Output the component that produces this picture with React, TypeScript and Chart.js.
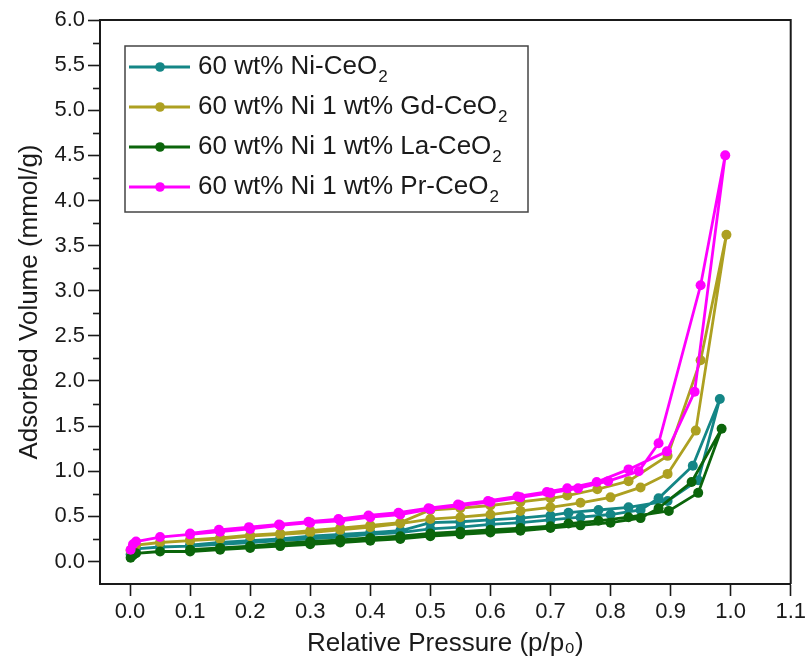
import React, { useEffect, useRef } from "react";
import { Chart, registerables } from "chart.js";

Chart.register(...registerables);

// ---- Series labels and colours ----
const SERIES_BASE = ["60 wt% Ni-CeO", "60 wt% Ni 1 wt% Gd-CeO", "60 wt% Ni 1 wt% La-CeO", "60 wt% Ni 1 wt% Pr-CeO"];
const SERIES_SUB = ["2", "2", "2", "2"];
const SERIES_COLORS = ["#148686", "#ADA021", "#0B650B", "#FF00FF"];

// ---- 60 wt% Ni-CeO2 ----
const NI_ADS_P = [0.001, 0.005, 0.01, 0.05, 0.1, 0.15, 0.2, 0.25, 0.3, 0.35, 0.4, 0.45, 0.5, 0.55, 0.6, 0.65, 0.7, 0.75, 0.8, 0.85, 0.88, 0.937, 0.982];
const NI_ADS_V = [0.08, 0.12, 0.14, 0.16, 0.17, 0.19, 0.21, 0.23, 0.25, 0.27, 0.30, 0.32, 0.36, 0.38, 0.41, 0.43, 0.46, 0.49, 0.52, 0.57, 0.70, 1.06, 1.80];
const NI_DES_P = [0.946, 0.895, 0.83, 0.78, 0.73, 0.7, 0.65, 0.6, 0.55, 0.5, 0.45, 0.4, 0.35, 0.3, 0.25, 0.2, 0.15, 0.1];
const NI_DES_V = [0.90, 0.67, 0.60, 0.57, 0.54, 0.51, 0.48, 0.46, 0.44, 0.43, 0.34, 0.32, 0.30, 0.28, 0.25, 0.23, 0.21, 0.18];

// ---- 60 wt% Ni 1 wt% Gd-CeO2 ----
const GD_ADS_P = [0.001, 0.005, 0.01, 0.05, 0.1, 0.15, 0.2, 0.25, 0.3, 0.35, 0.4, 0.45, 0.5, 0.55, 0.6, 0.65, 0.7, 0.75, 0.8, 0.85, 0.895, 0.942, 0.993];
const GD_ADS_V = [0.12, 0.16, 0.18, 0.21, 0.23, 0.25, 0.28, 0.30, 0.32, 0.35, 0.38, 0.42, 0.47, 0.49, 0.52, 0.56, 0.60, 0.65, 0.71, 0.82, 0.97, 1.45, 3.62];
const GD_DES_P = [0.95, 0.895, 0.83, 0.778, 0.728, 0.7, 0.65, 0.6, 0.55, 0.5, 0.45, 0.4, 0.35, 0.3, 0.25, 0.2, 0.15, 0.1];
const GD_DES_V = [2.23, 1.17, 0.89, 0.80, 0.73, 0.70, 0.66, 0.62, 0.59, 0.57, 0.43, 0.40, 0.37, 0.34, 0.31, 0.29, 0.26, 0.24];

// ---- 60 wt% Ni 1 wt% La-CeO2 ----
const LA_ADS_P = [0.001, 0.005, 0.01, 0.05, 0.1, 0.15, 0.2, 0.25, 0.3, 0.35, 0.4, 0.45, 0.5, 0.55, 0.6, 0.65, 0.7, 0.75, 0.8, 0.85, 0.88, 0.935, 0.985];
const LA_ADS_V = [0.04, 0.07, 0.09, 0.11, 0.11, 0.13, 0.15, 0.17, 0.19, 0.21, 0.23, 0.25, 0.28, 0.30, 0.32, 0.34, 0.37, 0.40, 0.43, 0.48, 0.59, 0.88, 1.47];
const LA_DES_P = [0.946, 0.897, 0.83, 0.78, 0.73, 0.7, 0.65, 0.6, 0.55, 0.5, 0.45, 0.4, 0.35, 0.3, 0.25, 0.2, 0.15, 0.1];
const LA_DES_V = [0.76, 0.56, 0.49, 0.45, 0.42, 0.39, 0.37, 0.35, 0.33, 0.31, 0.28, 0.26, 0.24, 0.22, 0.20, 0.17, 0.15, 0.13];

// ---- 60 wt% Ni 1 wt% Pr-CeO2 ----
const PR_ADS_P = [0.001, 0.005, 0.01, 0.05, 0.1, 0.15, 0.2, 0.25, 0.3, 0.35, 0.4, 0.45, 0.5, 0.55, 0.6, 0.65, 0.7, 0.746, 0.796, 0.847, 0.88, 0.95, 0.991];
const PR_ADS_V = [0.13, 0.19, 0.22, 0.27, 0.30, 0.33, 0.36, 0.40, 0.43, 0.45, 0.49, 0.52, 0.58, 0.62, 0.66, 0.71, 0.76, 0.81, 0.89, 1.00, 1.31, 3.06, 4.50];
const PR_DES_P = [0.94, 0.894, 0.83, 0.777, 0.728, 0.694, 0.645, 0.596, 0.546, 0.497, 0.447, 0.397, 0.347, 0.297, 0.248, 0.198, 0.148, 0.1];
const PR_DES_V = [1.88, 1.22, 1.02, 0.88, 0.81, 0.77, 0.72, 0.67, 0.63, 0.59, 0.54, 0.51, 0.47, 0.44, 0.41, 0.38, 0.35, 0.31];

// ---- Axes ----
const X_MIN = -0.05, X_MAX = 1.1;
const Y_MIN = -0.25, Y_MAX = 6.0;
const X_TICKS = [0.0, 0.1, 0.2, 0.3, 0.4, 0.5, 0.6, 0.7, 0.8, 0.9, 1.0, 1.1];
const Y_TICKS = [0.0, 0.5, 1.0, 1.5, 2.0, 2.5, 3.0, 3.5, 4.0, 4.5, 5.0, 5.5, 6.0];
const Y_MINOR_TICKS = [0.25, 0.75, 1.25, 1.75, 2.25, 2.75, 3.25, 3.75, 4.25, 4.75, 5.25, 5.75];
const X_TITLE = "Relative Pressure (p/p\u2080)";
const Y_TITLE = "Adsorbed Volume (mmol/g)";

const FONT = "'Liberation Sans', Arial, sans-serif";
const INK = "#1a1a1a";

function loop(ap: number[], av: number[], dp: number[], dv: number[]) {
  const pts = ap.map((p, i) => ({ x: p, y: av[i] }));
  return pts.concat(dp.map((p, i) => ({ x: p, y: dv[i] })));
}

const SERIES_DATA = [
  loop(NI_ADS_P, NI_ADS_V, NI_DES_P, NI_DES_V),
  loop(GD_ADS_P, GD_ADS_V, GD_DES_P, GD_DES_V),
  loop(LA_ADS_P, LA_ADS_V, LA_DES_P, LA_DES_V),
  loop(PR_ADS_P, PR_ADS_V, PR_DES_P, PR_DES_V),
];
const DRAW_ORDER = [3, 2, 1, 0];

const framePlugin = {
  id: "frameAndMinor",
  afterDraw(chart: any) {
    const { ctx, chartArea } = chart;
    const y = chart.scales.y;
    ctx.save();
    ctx.strokeStyle = INK;
    ctx.lineWidth = 2;
    ctx.beginPath();
    ctx.moveTo(chartArea.left, chartArea.top);
    ctx.lineTo(chartArea.right, chartArea.top);
    ctx.lineTo(chartArea.right, chartArea.bottom);
    ctx.stroke();
    ctx.lineWidth = 1.6;
    Y_MINOR_TICKS.forEach((v) => {
      const py = Math.round(y.getPixelForValue(v)) + 0.5;
      ctx.beginPath();
      ctx.moveTo(chartArea.left - 7, py);
      ctx.lineTo(chartArea.left, py);
      ctx.stroke();
    });
    ctx.restore();
  },
};

const legendPlugin = {
  id: "boxLegend",
  afterDraw(chart: any) {
    const { ctx } = chart;
    const boxL = 125, boxT = 46, boxR = 528, boxB = 212;
    ctx.save();
    ctx.fillStyle = "#ffffff";
    ctx.fillRect(boxL, boxT, boxR - boxL, boxB - boxT);
    ctx.strokeStyle = "#444";
    ctx.lineWidth = 1.5;
    ctx.strokeRect(boxL, boxT, boxR - boxL, boxB - boxT);
    SERIES_BASE.forEach((base, i) => {
      const cy = 67 + i * 40;
      const color = SERIES_COLORS[i];
      ctx.strokeStyle = color;
      ctx.lineWidth = 2.8;
      ctx.beginPath();
      ctx.moveTo(129, cy);
      ctx.lineTo(190, cy);
      ctx.stroke();
      ctx.fillStyle = color;
      ctx.beginPath();
      ctx.arc(160, cy, 4.8, 0, Math.PI * 2);
      ctx.fill();
      ctx.fillStyle = INK;
      ctx.textBaseline = "middle";
      ctx.textAlign = "left";
      ctx.font = `26px ${FONT}`;
      ctx.fillText(base, 198, cy);
      const w = ctx.measureText(base).width;
      ctx.font = `17px ${FONT}`;
      ctx.fillText(SERIES_SUB[i], 198 + w + 1, cy + 10);
    });
    ctx.restore();
  },
};

export default function App() {
  const ref = useRef<HTMLCanvasElement | null>(null);
  useEffect(() => {
    if (!ref.current) return;
    const chart = new Chart(ref.current, {
      type: "line",
      data: {
        datasets: SERIES_DATA.map((d, i) => ({
          label: SERIES_BASE[i] + "\u2082",
          data: d,
          borderColor: SERIES_COLORS[i],
          backgroundColor: SERIES_COLORS[i],
          borderWidth: 2.8,
          pointRadius: 5,
          pointBorderWidth: 0,
          pointHoverRadius: 5,
          tension: 0,
          fill: false,
          order: DRAW_ORDER[i],
        })),
      },
      options: {
        animation: false,
        responsive: false,
        maintainAspectRatio: false,
        layout: { padding: { left: 0, top: 20, right: 16, bottom: 0 } },
        plugins: {
          legend: { display: false },
          tooltip: { enabled: false },
        },
        scales: {
          x: {
            type: "linear",
            min: X_MIN,
            max: X_MAX,
            afterBuildTicks: (s: any) => {
              s.ticks = X_TICKS.map((v) => ({ value: v }));
            },
            afterFit: (s: any) => {
              s.height = 82;
            },
            ticks: {
              autoSkip: false,
              maxRotation: 0,
              padding: 3,
              color: INK,
              font: { family: FONT, size: 22 },
              callback: (v: any) => Number(v).toFixed(1),
            },
            grid: { drawOnChartArea: false, drawTicks: true, tickLength: 12, tickColor: INK, tickWidth: 1.6 },
            border: { display: true, color: INK, width: 2 },
            title: {
              display: true,
              text: X_TITLE,
              color: INK,
              font: { family: FONT, size: 26 },
              padding: { top: 0, bottom: 7 },
            },
          },
          y: {
            type: "linear",
            min: Y_MIN,
            max: Y_MAX,
            afterBuildTicks: (s: any) => {
              s.ticks = Y_TICKS.map((v) => ({ value: v }));
            },
            afterFit: (s: any) => {
              s.width = 100;
            },
            ticks: {
              autoSkip: false,
              padding: 3,
              color: INK,
              font: { family: FONT, size: 22 },
              callback: (v: any) => Number(v).toFixed(1),
            },
            grid: { drawOnChartArea: false, drawTicks: true, tickLength: 12, tickColor: INK, tickWidth: 1.6 },
            border: { display: true, color: INK, width: 2 },
            title: {
              display: true,
              text: Y_TITLE,
              color: INK,
              font: { family: FONT, size: 26 },
              padding: { top: 14, bottom: 0 },
            },
          },
        },
      },
      plugins: [framePlugin, legendPlugin],
    });
    return () => chart.destroy();
  }, []);
  return (
    <div style={{ position: "fixed", left: 0, top: 0, width: 809, height: 666, background: "#fff" }}>
      <canvas ref={ref} width={809} height={666} style={{ display: "block", width: 809, height: 666 }} />
    </div>
  );
}
